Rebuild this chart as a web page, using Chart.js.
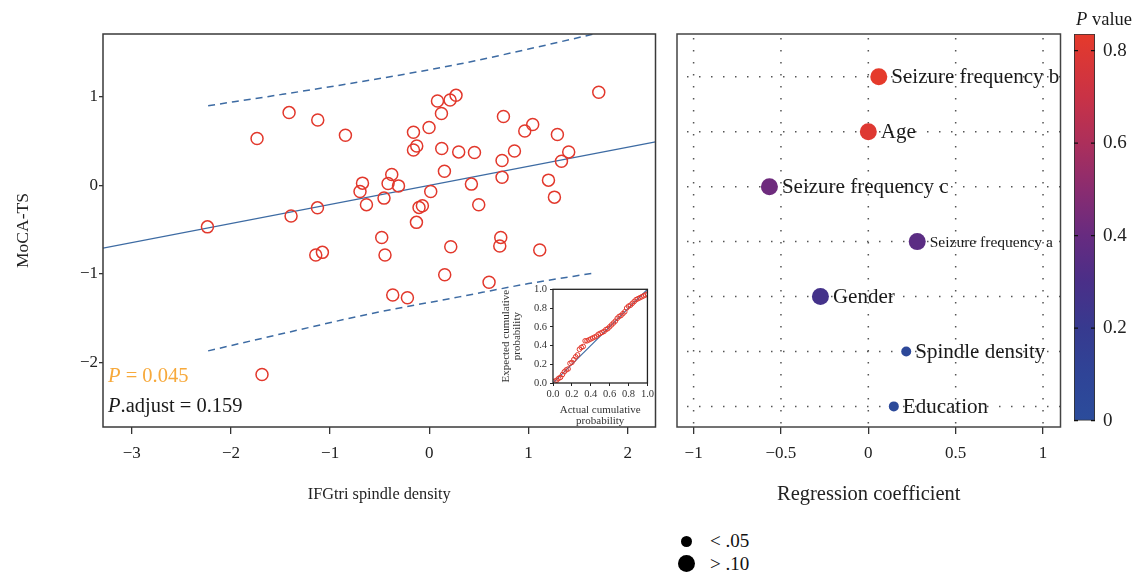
<!DOCTYPE html>
<html>
<head>
<meta charset="utf-8">
<script src="https://cdn.jsdelivr.net/npm/chart.js@4.4.1/dist/chart.umd.min.js"></script>
<style>
  body { margin: 0; background: #fff; width: 1143px; height: 582px; position: relative; overflow: hidden; font-family: "Liberation Serif", "DejaVu Serif", serif; }
  canvas { position: absolute; }
  .dot { position: absolute; background: #000; border-radius: 50%; }
  .lg { position: absolute; font-size: 19px; color: #111; line-height: 22px; }
</style>
</head>
<body>
<canvas id="scatter" style="left:0px;top:0px" width="663" height="520"></canvas>
<canvas id="inset" style="left:480px;top:280px" width="176" height="152"></canvas>
<canvas id="coef" style="left:660px;top:0px" width="409" height="520"></canvas>
<canvas id="cbar" style="left:1064px;top:0px" width="79" height="440"></canvas>

<div class="dot" style="left:680.5px;top:536px;width:11px;height:11px"></div>
<div class="lg" style="left:710px;top:530px">&lt; .05</div>
<div class="dot" style="left:677.5px;top:555px;width:17px;height:17px"></div>
<div class="lg" style="left:710px;top:553px">&gt; .10</div>

<script>
// left panel: MoCA-TS vs IFGtri spindle density
const scatterX = [-2.237, -1.737, -1.414, -1.394, -1.125, -1.128, -1.145, -1.078, -0.846, -1.687,
  -0.674, -0.699, -0.634, -0.480, -0.447, -0.457, -0.416, -0.379, -0.369, -0.311,
  -0.221, -0.160, -0.160, -0.127, -0.130, -0.104, -0.070, -0.003, 0.014, 0.082,
  0.122, 0.125, 0.152, 0.155, 0.209, 0.269, 0.216, 0.296, 0.424, 0.455,
  0.498, 0.602, 0.747, 0.733, 0.733, 0.720, 0.710, 0.858, 0.962, 1.042,
  1.113, 1.201, 1.261, 1.291, 1.332, 1.405, 1.708];
const scatterY = [-0.469, 0.529, 0.822, -0.347, 0.739, -0.254, -0.787, -0.757, 0.566, -2.137,
  0.025, -0.069, -0.218, -0.590, -0.787, -0.144, 0.021, 0.123, -1.238, -0.006,
  -1.269, 0.600, 0.400, 0.445, -0.418, -0.249, -0.231, 0.653, -0.069, 0.953,
  0.811, 0.416, 0.160, -1.009, 0.964, 1.017, -0.694, 0.378, 0.014, 0.371,
  -0.220, -1.095, 0.777, 0.281, 0.092, -0.588, -0.686, 0.389, 0.615, 0.687,
  -0.731, 0.059, -0.133, 0.574, 0.273, 0.378, 1.051];
const fitX = [-3.29, 2.28];
const fitY = [-0.71, 0.49];
const bandX = [-2.23, -1.5, -0.59, 0.3, 1.0, 1.66];
const upperY = [0.90, 1.025, 1.19, 1.37, 1.54, 1.71];
const lowerY = [-1.87, -1.68, -1.45, -1.26, -1.11, -0.99];
const xTicksL = [-3, -2, -1, 0, 1, 2];
const yTicksL = [-2, -1, 0, 1];

// inset P-P plot
const ppActual = [0.02, 0.04, 0.06, 0.08, 0.10, 0.12, 0.14, 0.16, 0.18, 0.20,
  0.22, 0.24, 0.26, 0.28, 0.30, 0.32, 0.34, 0.36, 0.38, 0.40,
  0.42, 0.44, 0.46, 0.48, 0.50, 0.52, 0.54, 0.56, 0.58, 0.60,
  0.62, 0.64, 0.66, 0.68, 0.70, 0.72, 0.74, 0.76, 0.78, 0.80,
  0.82, 0.84, 0.86, 0.88, 0.90, 0.92, 0.94, 0.96, 0.98, 1.00];
const ppExpected = [0.02, 0.03, 0.05, 0.06, 0.09, 0.12, 0.14, 0.15, 0.21, 0.22,
  0.25, 0.28, 0.30, 0.36, 0.38, 0.39, 0.45, 0.45, 0.46, 0.47,
  0.48, 0.49, 0.50, 0.52, 0.53, 0.54, 0.55, 0.57, 0.58, 0.60,
  0.62, 0.64, 0.66, 0.69, 0.71, 0.72, 0.74, 0.76, 0.80, 0.82,
  0.83, 0.85, 0.87, 0.89, 0.90, 0.91, 0.92, 0.93, 0.94, 0.95];
const ppTicks = [0, 0.2, 0.4, 0.6, 0.8, 1.0];

// right panel: regression coefficients (bottom to top)
const predictors = ['Education', 'Spindle density', 'Gender', 'Seizure frequency a',
  'Seizure frequency c', 'Age', 'Seizure frequency b'];
const coefs = [0.146, 0.217, -0.274, 0.28, -0.566, 0.0, 0.06];
const pValues = [0.02, 0.045, 0.27, 0.36, 0.42, 0.80, 0.836];
const coefTicks = [-1, -0.5, 0, 0.5, 1];

// colour bar
const cbarTicks = [0, 0.2, 0.4, 0.6, 0.8];
const cbarMax = 0.836;
const gradStops = [0, 0.1, 0.2, 0.3, 0.4, 0.5, 0.6, 0.7, 0.836];
const gradColors = ['#2b4c9b', '#2f4497', '#373a8f', '#4a2f88', '#672b80', '#8a2c70', '#ac2f5b', '#c93246', '#e53a2b'];

const SERIF = '"Liberation Serif", "DejaVu Serif", serif';
Chart.defaults.font.family = SERIF;
Chart.defaults.color = '#222';
Chart.defaults.animation = false;
Chart.defaults.plugins.legend.display = false;
Chart.defaults.plugins.tooltip.enabled = false;

const fmt = v => String(v).replace('-', '\u2212');
const pts = (xs, ys) => xs.map((x, i) => ({ x: x, y: ys[i] }));

function hexRgb(h) {
  return [1, 3, 5].map(i => parseInt(h.slice(i, i + 2), 16));
}
function pColor(p) {
  for (let i = 0; i < gradStops.length - 1; i++) {
    if (p <= gradStops[i + 1]) {
      const t = (p - gradStops[i]) / (gradStops[i + 1] - gradStops[i]);
      const a = hexRgb(gradColors[i]), b = hexRgb(gradColors[i + 1]);
      const c = a.map((v, k) => Math.round(v + (b[k] - v) * t));
      return `rgb(${c[0]},${c[1]},${c[2]})`;
    }
  }
  return gradColors[gradColors.length - 1];
}

// text with an italic leading "P"
function italicP(ctx, rest, x, y, size, color) {
  ctx.save();
  ctx.fillStyle = color;
  ctx.textBaseline = 'middle';
  ctx.textAlign = 'left';
  ctx.font = `italic ${size}px ${SERIF}`;
  ctx.fillText('P', x, y);
  const w = ctx.measureText('P').width;
  ctx.font = `${size}px ${SERIF}`;
  ctx.fillText(rest, x + w, y);
  ctx.restore();
}

const frame = {
  id: 'frame',
  afterDraw(chart, args, opts) {
    const a = chart.chartArea, ctx = chart.ctx;
    ctx.save();
    ctx.strokeStyle = opts.color || '#333';
    ctx.lineWidth = opts.width || 1.5;
    ctx.strokeRect(a.left, a.top, a.right - a.left, a.bottom - a.top);
    ctx.restore();
  }
};

function fixedTicks(list) {
  return s => { s.ticks = list.map(v => ({ value: v })); };
}

// ---------- left scatter ----------
new Chart(document.getElementById('scatter'), {
  type: 'scatter',
  data: {
    datasets: [
      { data: pts(scatterX, scatterY), pointRadius: 6, pointHoverRadius: 6, borderColor: '#e2382c', borderWidth: 1.5, backgroundColor: 'rgba(0,0,0,0)' },
      { data: pts(fitX, fitY), showLine: true, pointRadius: 0, borderColor: '#3d6ba3', borderWidth: 1.3 },
      { data: pts(bandX, upperY), showLine: true, pointRadius: 0, borderColor: '#3d6ba3', borderWidth: 1.5, borderDash: [7, 5], cubicInterpolationMode: 'monotone' },
      { data: pts(bandX, lowerY), showLine: true, pointRadius: 0, borderColor: '#3d6ba3', borderWidth: 1.5, borderDash: [7, 5], cubicInterpolationMode: 'monotone' }
    ]
  },
  options: {
    responsive: false,
    layout: { padding: { top: 34, right: 4, left: 0, bottom: 0 } },
    scales: {
      x: {
        min: -3.29, max: 2.28,
        afterBuildTicks: fixedTicks(xTicksL),
        afterFit: s => { s.height = 93; },
        grid: { drawOnChartArea: false, tickLength: 7, color: '#333', lineWidth: 1.3 },
        border: { display: false },
        ticks: { callback: fmt, font: { size: 17 }, padding: 9, maxRotation: 0 },
        title: { display: true, text: 'IFGtri spindle density', font: { size: 16.3 }, padding: { top: 0, bottom: 15 } }
      },
      y: {
        min: -2.73, max: 1.71,
        afterBuildTicks: fixedTicks(yTicksL),
        afterFit: s => { s.width = 103; },
        grid: { drawOnChartArea: false, tickLength: 4, color: '#333', lineWidth: 1.3 },
        border: { display: false },
        ticks: { callback: fmt, font: { size: 17 }, padding: 1 },
        title: { display: true, text: 'MoCA-TS', font: { size: 17.5 }, padding: { top: 13, bottom: 0 } }
      }
    },
    plugins: { frame: { color: '#3a3a3a', width: 1.5 } }
  },
  plugins: [frame, {
    id: 'pnotes',
    afterDraw(chart) {
      const a = chart.chartArea;
      italicP(chart.ctx, ' = 0.045', a.left + 5, 377, 20.5, '#f7a93b');
      italicP(chart.ctx, '.adjust = 0.159', a.left + 5, 407, 20.5, '#1a1a1a');
    }
  }]
});

// ---------- inset P-P plot ----------
new Chart(document.getElementById('inset'), {
  type: 'scatter',
  data: {
    datasets: [
      { data: pts(ppActual, ppExpected), pointRadius: 2.3, borderColor: '#e2382c', borderWidth: 1, backgroundColor: 'rgba(0,0,0,0)' },
      { data: pts([0, 1], [0, 1]), showLine: true, pointRadius: 0, borderColor: '#3d6ba3', borderWidth: 1.1 }
    ]
  },
  options: {
    responsive: false,
    layout: { padding: { top: 8, right: 4, left: 0, bottom: 0 } },
    scales: {
      x: {
        min: 0, max: 1,
        afterBuildTicks: fixedTicks(ppTicks),
        afterFit: s => { s.height = 49; },
        grid: { drawOnChartArea: false, tickLength: 3, color: '#222' },
        border: { display: false },
        ticks: { callback: v => v.toFixed(1), font: { size: 10.5 }, padding: 2, maxRotation: 0, color: '#333' },
        title: { display: true, text: ['Actual cumulative', 'probability'], font: { size: 11, lineHeight: 1.0 }, color: '#333', padding: { top: 0, bottom: 5 } }
      },
      y: {
        min: 0, max: 1,
        afterBuildTicks: fixedTicks(ppTicks),
        afterFit: s => { s.width = 73; },
        grid: { drawOnChartArea: false, tickLength: 3, color: '#222' },
        border: { display: false },
        ticks: { callback: v => v.toFixed(1), font: { size: 10.5 }, padding: 3, color: '#333' },
        title: { display: true, text: ['Expected cumulative', 'probability'], font: { size: 11, lineHeight: 1.0 }, color: '#333', padding: { top: 21, bottom: 0 } }
      }
    },
    plugins: { frame: { color: '#222', width: 1.3 } }
  },
  plugins: [frame]
});

// ---------- right coefficient plot ----------
const coefPts = coefs.map((c, i) => ({ x: c, y: i + 1 }));
new Chart(document.getElementById('coef'), {
  type: 'scatter',
  data: {
    datasets: [{
      data: coefPts,
      pointRadius: ctx => pValues[ctx.dataIndex] < 0.05 ? 5 : 8.5,
      pointHoverRadius: ctx => pValues[ctx.dataIndex] < 0.05 ? 5 : 8.5,
      backgroundColor: ctx => pColor(pValues[ctx.dataIndex]),
      borderColor: ctx => pColor(pValues[ctx.dataIndex]),
      borderWidth: 0
    }]
  },
  options: {
    responsive: false,
    layout: { padding: { top: 34, right: 4, left: 0, bottom: 0 } },
    scales: {
      x: {
        min: -1.095, max: 1.1,
        afterBuildTicks: fixedTicks(coefTicks),
        afterFit: s => { s.height = 93; },
        grid: { drawOnChartArea: false, tickLength: 7, color: '#333', lineWidth: 1.3 },
        border: { display: false },
        ticks: { callback: fmt, font: { size: 17 }, padding: 9, maxRotation: 0 },
        title: { display: true, text: 'Regression coefficient', font: { size: 20.5 }, padding: { top: 0, bottom: 13 } }
      },
      y: {
        min: 0.625, max: 7.78,
        afterBuildTicks: fixedTicks([1, 2, 3, 4, 5, 6, 7]),
        afterFit: s => { s.width = 17; },
        grid: { display: false },
        border: { display: false },
        ticks: { display: false }
      }
    },
    plugins: { frame: { color: '#444', width: 1.5 } }
  },
  plugins: [{
    id: 'dotgrid',
    beforeDatasetsDraw(chart) {
      const { ctx, chartArea: a, scales: { x, y } } = chart;
      ctx.save();
      ctx.strokeStyle = '#555';
      ctx.lineWidth = 1.5;
      ctx.setLineDash([1.5, 10.5]);
      coefTicks.forEach(v => {
        const px = x.getPixelForValue(v);
        ctx.beginPath(); ctx.moveTo(px, a.top + 4); ctx.lineTo(px, a.bottom); ctx.stroke();
      });
      predictors.forEach((_, i) => {
        const py = y.getPixelForValue(i + 1);
        ctx.beginPath(); ctx.moveTo(a.left + 10, py); ctx.lineTo(a.right, py); ctx.stroke();
      });
      ctx.restore();
    },
    afterDatasetsDraw(chart) {
      const ctx = chart.ctx;
      const meta = chart.getDatasetMeta(0);
      ctx.save();
      ctx.fillStyle = '#1a1a1a';
      ctx.textBaseline = 'middle';
      ctx.textAlign = 'left';
      meta.data.forEach((el, i) => {
        const r = pValues[i] < 0.05 ? 5 : 8.5;
        const size = predictors[i] === 'Seizure frequency a' ? 15.5 : 21;
        ctx.font = `${size}px ${SERIF}`;
        ctx.fillText(predictors[i], el.x + r + 4, el.y + 1);
      });
      ctx.restore();
    }
  }, frame]
});

// ---------- colour bar ----------
new Chart(document.getElementById('cbar'), {
  type: 'bar',
  data: {
    labels: [''],
    datasets: [{
      data: [cbarMax],
      barPercentage: 1,
      categoryPercentage: 1,
      borderColor: '#333',
      borderWidth: 1.2,
      borderSkipped: false,
      backgroundColor: ctx => {
        const a = ctx.chart.chartArea;
        if (!a) return gradColors[0];
        const g = ctx.chart.ctx.createLinearGradient(0, a.bottom, 0, a.top);
        gradStops.forEach((s, i) => g.addColorStop(s / cbarMax, gradColors[i]));
        return g;
      }
    }]
  },
  options: {
    responsive: false,
    layout: { padding: { top: 34, left: 10, right: 0, bottom: 13 } },
    scales: {
      x: { display: false },
      y: {
        position: 'right',
        min: 0, max: cbarMax,
        afterBuildTicks: fixedTicks(cbarTicks),
        afterFit: s => { s.width = 48; },
        grid: { display: false, drawTicks: false },
        border: { display: false },
        ticks: { callback: v => v === 0 ? '0' : v.toFixed(1), font: { size: 19 }, padding: 8 }
      }
    }
  },
  plugins: [{
    id: 'cbarmarks',
    afterDraw(chart) {
      const { ctx, chartArea: a, scales: { y } } = chart;
      ctx.save();
      ctx.strokeStyle = '#111';
      ctx.lineWidth = 1.3;
      cbarTicks.forEach(v => {
        const py = y.getPixelForValue(v);
        ctx.beginPath();
        ctx.moveTo(a.left, py); ctx.lineTo(a.left + 4, py);
        ctx.moveTo(a.right - 4, py); ctx.lineTo(a.right, py);
        ctx.stroke();
      });
      ctx.restore();
      italicP(ctx, ' value', a.left + 2, 20, 18.5, '#1a1a1a');
    }
  }]
});
</script>
</body>
</html>
